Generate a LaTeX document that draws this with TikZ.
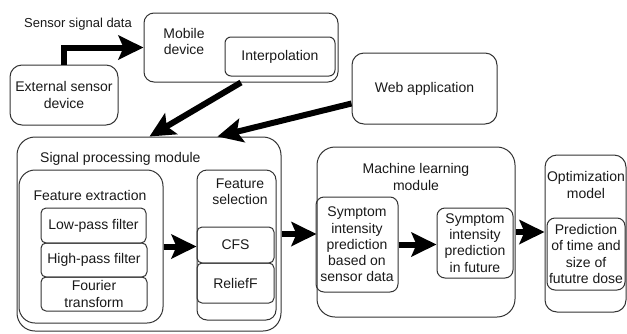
\documentclass[tikz,border=0pt]{standalone}
\usepackage{fontspec}
\setmainfont{Liberation Sans}
\usetikzlibrary{arrows.meta,calc}
\newcommand\fs{\fontsize{14pt}{16.3pt}\selectfont}
\tikzset{
  box/.style={draw=black!80, line width=1pt, rounded corners=#1, inner sep=0pt,
              align=center, font=\fs, text=black!90},
  box/.default=8pt,
  lbl/.style={inner sep=0pt, align=center, font=\fs, text=black!90},
  flow/.style={line width=6pt, -{Stealth[length=25pt,width=24pt,inset=5pt]}}
}
\begin{document}
\begin{tikzpicture}[x=1pt,y=-1pt]
\useasboundingbox (0,0) rectangle (627,333);

% top row: sensor, mobile device, web application
\node[box=12pt, minimum width=108pt, minimum height=60pt] (ext) at (64,95) {External sensor\\device};
\node[box=10pt, minimum width=194pt, minimum height=69pt] (mob) at (241,47.5) {};
\node[lbl] (mobtxt) at (184,41.5) {Mobile\\device};
\node[box=6pt, minimum width=110pt, minimum height=39pt] (interp) at (280,56.5) {Interpolation};
\node[box=12pt, minimum width=145pt, minimum height=71pt] (web) at (424.5,88.5) {Web application};
\node[lbl, font=\fontsize{13pt}{15pt}\selectfont] (sig) at (78,24) {Sensor signal data};

% signal processing module
\node[box=18pt, minimum width=264pt, minimum height=194pt] (spm) at (149,234) {};
\node[lbl, anchor=west] (spmtxt) at (40,159) {Signal processing module};
\node[box=16pt, minimum width=144pt, minimum height=153pt] (fex) at (91,246.5) {};
\node[lbl] (fextxt) at (90,195) {Feature extraction};
\node[box=5pt, minimum width=105pt, minimum height=35pt] (lp) at (93.5,225.5) {Low-pass filter};
\node[box=5pt, minimum width=106pt, minimum height=34pt] (hp) at (94,260) {High-pass filter};
\node[box=5pt, minimum width=106pt, minimum height=34pt] (ft) at (94,294) {Fourier\\transform};
\node[box=10pt, minimum width=79pt, minimum height=150pt] (fsel) at (236.5,245) {};
\node[lbl] (fseltxt) at (240,192) {Feature\\selection};
\node[box=5pt, minimum width=77pt, minimum height=36pt] (cfs) at (235.5,245) {CFS};
\node[box=5pt, minimum width=77pt, minimum height=40pt] (rel) at (235.5,283) {ReliefF};

% machine learning module
\node[box=18pt, minimum width=198pt, minimum height=170pt] (ml) at (416,232) {};
\node[lbl] (mltxt) at (416,177) {Machine learning\\module};
\node[box=8pt, minimum width=82pt, minimum height=95pt] (sym1) at (357,244.5)
  {Symptom\\intensity\\prediction\\based on\\sensor data};
\node[box=8pt, minimum width=76pt, minimum height=70pt] (sym2) at (475,243)
  {Symptom\\intensity\\prediction\\in future};

% optimization model
\node[box=12pt, minimum width=81pt, minimum height=157pt] (opt) at (585.5,233.5) {};
\node[lbl] (opttxt) at (586,185) {Optimization\\model};
\node[box=8pt, minimum width=78pt, minimum height=72pt] (pred) at (586,254)
  {Prediction\\of time and\\size of\\fututre dose};

% entry points on the signal processing module
\coordinate (in1) at ($(spm.north west)+(133,0)$);
\coordinate (in2) at ($(spm.north west)+(201,0)$);
\coordinate (webout) at ($(web.south west)+(0,-21)$);

% data flow
\draw[flow] (ext.north) |- (mob.west);
\draw[flow] (mob.south) -- (in1);
\draw[flow] (webout) -- (in2);
\draw[flow] (fex.east) -- (fex.east -| fsel.west);
\draw[flow] (spm.east) -- (spm.east -| ml.west);
\draw[flow] (sym1.east) -- (sym1.east -| sym2.west);
\draw[flow] (ml.east) -- (ml.east -| opt.west);
\end{tikzpicture}
\end{document}
